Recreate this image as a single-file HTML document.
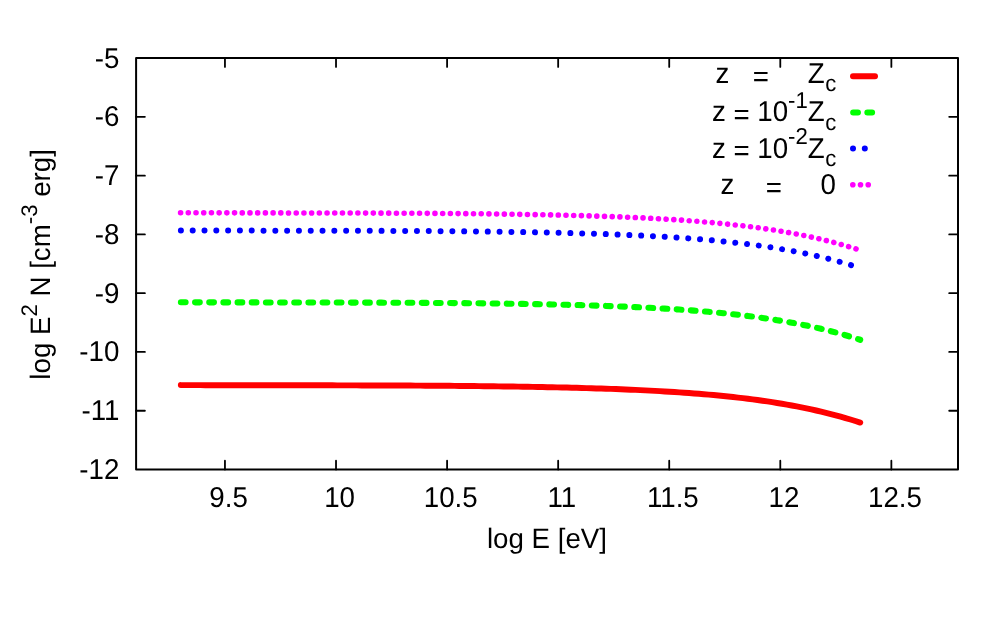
<!DOCTYPE html>
<html><head><meta charset="utf-8"><title>plot</title>
<style>
html,body{margin:0;padding:0;background:#fff;}
body{width:1000px;height:642px;overflow:hidden;}
svg{display:block;will-change:transform;}
text{font-family:"Liberation Sans",sans-serif;font-size:27.7px;fill:#000;text-rendering:geometricPrecision;}
.s{font-size:22.16px;}
</style></head><body>
<svg width="1000" height="642" viewBox="0 0 1000 642">
<rect width="1000" height="642" fill="#fff"/>
<g fill="none" stroke="#000" stroke-width="1.8" stroke-linecap="round">
<path d="M224.95,469.5 V460.7 M224.95,58.1 V66.9"/>
<path d="M336.02,469.5 V460.7 M336.02,58.1 V66.9"/>
<path d="M447.09,469.5 V460.7 M447.09,58.1 V66.9"/>
<path d="M558.16,469.5 V460.7 M558.16,58.1 V66.9"/>
<path d="M669.22,469.5 V460.7 M669.22,58.1 V66.9"/>
<path d="M780.29,469.5 V460.7 M780.29,58.1 V66.9"/>
<path d="M891.36,469.5 V460.7 M891.36,58.1 V66.9"/>
<path d="M136.1,410.73 H144.9 M958.0,410.73 H949.2"/>
<path d="M136.1,351.96 H144.9 M958.0,351.96 H949.2"/>
<path d="M136.1,293.19 H144.9 M958.0,293.19 H949.2"/>
<path d="M136.1,234.41 H144.9 M958.0,234.41 H949.2"/>
<path d="M136.1,175.64 H144.9 M958.0,175.64 H949.2"/>
<path d="M136.1,116.87 H144.9 M958.0,116.87 H949.2"/>
</g>
<g>
<text transform="translate(228.55,507.30) scale(1.0,1.035)" text-anchor="middle">9.5</text>
<text transform="translate(339.62,507.30) scale(1.0,1.035)" text-anchor="middle">10</text>
<text transform="translate(450.69,507.30) scale(1.0,1.035)" text-anchor="middle">10.5</text>
<text transform="translate(561.76,507.30) scale(1.0,1.035)" text-anchor="middle">11</text>
<text transform="translate(672.82,507.30) scale(1.0,1.035)" text-anchor="middle">11.5</text>
<text transform="translate(783.89,507.30) scale(1.0,1.035)" text-anchor="middle">12</text>
<text transform="translate(894.96,507.30) scale(1.0,1.035)" text-anchor="middle">12.5</text>
<text transform="translate(119.40,478.90) scale(1.0,1.035)" text-anchor="end">-12</text>
<text transform="translate(119.40,420.13) scale(1.0,1.035)" text-anchor="end">-11</text>
<text transform="translate(119.40,361.36) scale(1.0,1.035)" text-anchor="end">-10</text>
<text transform="translate(119.40,302.59) scale(1.0,1.035)" text-anchor="end">-9</text>
<text transform="translate(119.40,243.81) scale(1.0,1.035)" text-anchor="end">-8</text>
<text transform="translate(119.40,185.04) scale(1.0,1.035)" text-anchor="end">-7</text>
<text transform="translate(119.40,126.27) scale(1.0,1.035)" text-anchor="end">-6</text>
<text transform="translate(119.40,67.50) scale(1.0,1.035)" text-anchor="end">-5</text>
<text transform="translate(547.00,548.10) scale(1.0,1.015)" text-anchor="middle">log E [eV]</text>
<text transform="translate(50.40,264.40) rotate(-90) scale(1.0,1.015)" text-anchor="middle">log E<tspan class="s" dy="-13.4">2</tspan><tspan dy="13.4"> N [cm</tspan><tspan class="s" dy="-13.4">-3</tspan><tspan dy="13.4"> erg]</tspan></text>
<text transform="translate(715.60,82.80) scale(1.0,1.035)">z</text>
<text transform="translate(752.70,85.50) scale(1.0,1.035)">=</text>
<text transform="translate(807.70,82.80) scale(1.0,1.035)">Z<tspan class="s" dx="0.6" dy="8.3">c</tspan></text>
<text transform="translate(711.90,121.40) scale(1.0,1.035)">z <tspan dy="2.7">=</tspan><tspan dy="-2.7"> 10</tspan><tspan class="s" dy="-13.4">-1</tspan><tspan dy="13.4">Z</tspan><tspan class="s" dx="0.6" dy="8.3">c</tspan></text>
<text transform="translate(711.90,157.50) scale(1.0,1.035)">z <tspan dy="2.7">=</tspan><tspan dy="-2.7"> 10</tspan><tspan class="s" dy="-13.4">-2</tspan><tspan dy="13.4">Z</tspan><tspan class="s" dx="0.6" dy="8.3">c</tspan></text>
<text transform="translate(720.50,194.40) scale(1.0,1.035)">z</text>
<text transform="translate(765.70,197.10) scale(1.0,1.035)">=</text>
<text transform="translate(820.60,194.40) scale(1.0,1.035)">0</text>
</g>
<!-- curves -->
<g fill="none" stroke-linecap="round" stroke-linejoin="round">
<path d="M180.85,385.10 L185.74,385.11 L190.62,385.12 L195.51,385.13 L200.40,385.14 L205.29,385.15 L210.17,385.15 L215.06,385.16 L219.95,385.17 L224.84,385.18 L229.72,385.19 L234.61,385.19 L239.50,385.20 L244.39,385.21 L249.27,385.21 L254.16,385.22 L259.05,385.23 L263.94,385.23 L268.82,385.24 L273.71,385.25 L278.60,385.25 L283.49,385.26 L288.37,385.27 L293.26,385.27 L298.15,385.28 L303.04,385.29 L307.92,385.30 L312.81,385.30 L317.70,385.31 L322.58,385.32 L327.47,385.33 L332.36,385.34 L337.25,385.35 L342.13,385.36 L347.02,385.37 L351.91,385.38 L356.80,385.39 L361.68,385.41 L366.57,385.42 L371.46,385.43 L376.35,385.45 L381.23,385.47 L386.12,385.48 L391.01,385.50 L395.90,385.52 L400.78,385.54 L405.67,385.57 L410.56,385.59 L415.45,385.62 L420.33,385.64 L425.22,385.67 L430.11,385.70 L435.00,385.73 L439.88,385.77 L444.77,385.80 L449.66,385.84 L454.54,385.88 L459.43,385.92 L464.32,385.97 L469.21,386.02 L474.09,386.07 L478.98,386.12 L483.87,386.17 L488.76,386.23 L493.64,386.29 L498.53,386.35 L503.42,386.42 L508.31,386.49 L513.19,386.56 L518.08,386.63 L522.97,386.71 L527.86,386.79 L532.74,386.88 L537.63,386.97 L542.52,387.06 L547.41,387.16 L552.29,387.26 L557.18,387.37 L562.07,387.48 L566.96,387.59 L571.84,387.72 L576.73,387.84 L581.62,387.97 L586.51,388.11 L591.39,388.26 L596.28,388.41 L601.17,388.56 L606.05,388.73 L610.94,388.90 L615.83,389.08 L620.72,389.27 L625.60,389.47 L630.49,389.67 L635.38,389.89 L640.27,390.12 L645.15,390.35 L650.04,390.60 L654.93,390.86 L659.82,391.13 L664.70,391.41 L669.59,391.71 L674.48,392.02 L679.37,392.35 L684.25,392.69 L689.14,393.04 L694.03,393.41 L698.92,393.80 L703.80,394.20 L708.69,394.63 L713.58,395.07 L718.47,395.53 L723.35,396.01 L728.24,396.52 L733.13,397.04 L738.01,397.59 L742.90,398.16 L747.79,398.76 L752.68,399.39 L757.56,400.04 L762.45,400.72 L767.34,401.43 L772.23,402.18 L777.11,402.95 L782.00,403.76 L786.89,404.60 L791.78,405.49 L796.66,406.40 L801.55,407.36 L806.44,408.36 L811.33,409.40 L816.21,410.49 L821.10,411.62 L825.99,412.80 L830.88,414.03 L835.76,415.32 L840.65,416.65 L845.54,418.04 L850.43,419.49 L855.31,420.99 L860.20,422.56" stroke="#ff0000" stroke-width="5.95"/>
<path d="M180.90,302.30 L185.79,302.31 L190.67,302.32 L195.56,302.33 L200.45,302.34 L205.34,302.35 L210.22,302.35 L215.11,302.36 L220.00,302.37 L224.88,302.38 L229.77,302.39 L234.66,302.39 L239.54,302.40 L244.43,302.41 L249.32,302.41 L254.21,302.42 L259.09,302.43 L263.98,302.43 L268.87,302.44 L273.75,302.45 L278.64,302.45 L283.53,302.46 L288.42,302.47 L293.30,302.47 L298.19,302.48 L303.08,302.49 L307.96,302.50 L312.85,302.50 L317.74,302.51 L322.62,302.52 L327.51,302.53 L332.40,302.54 L337.29,302.55 L342.17,302.56 L347.06,302.57 L351.95,302.58 L356.83,302.59 L361.72,302.61 L366.61,302.62 L371.49,302.63 L376.38,302.65 L381.27,302.67 L386.16,302.68 L391.04,302.70 L395.93,302.72 L400.82,302.74 L405.70,302.77 L410.59,302.79 L415.48,302.82 L420.37,302.84 L425.25,302.87 L430.14,302.90 L435.03,302.93 L439.91,302.97 L444.80,303.00 L449.69,303.04 L454.57,303.08 L459.46,303.12 L464.35,303.17 L469.24,303.22 L474.12,303.27 L479.01,303.32 L483.90,303.37 L488.78,303.43 L493.67,303.49 L498.56,303.55 L503.45,303.62 L508.33,303.69 L513.22,303.76 L518.11,303.83 L522.99,303.91 L527.88,303.99 L532.77,304.08 L537.65,304.17 L542.54,304.26 L547.43,304.36 L552.32,304.46 L557.20,304.57 L562.09,304.68 L566.98,304.80 L571.86,304.92 L576.75,305.04 L581.64,305.17 L586.53,305.31 L591.41,305.46 L596.30,305.61 L601.19,305.76 L606.07,305.93 L610.96,306.10 L615.85,306.28 L620.73,306.47 L625.62,306.67 L630.51,306.87 L635.40,307.09 L640.28,307.32 L645.17,307.55 L650.06,307.80 L654.94,308.06 L659.83,308.33 L664.72,308.61 L669.61,308.91 L674.49,309.22 L679.38,309.55 L684.27,309.89 L689.15,310.24 L694.04,310.61 L698.93,311.00 L703.81,311.41 L708.70,311.83 L713.59,312.27 L718.48,312.73 L723.36,313.21 L728.25,313.72 L733.14,314.24 L738.02,314.79 L742.91,315.37 L747.80,315.96 L752.68,316.59 L757.57,317.24 L762.46,317.92 L767.35,318.63 L772.23,319.38 L777.12,320.15 L782.01,320.96 L786.89,321.81 L791.78,322.69 L796.67,323.60 L801.56,324.56 L806.44,325.56 L811.33,326.61 L816.22,327.69 L821.10,328.82 L825.99,330.00 L830.88,331.23 L835.76,332.52 L840.65,333.85 L845.54,335.24 L850.43,336.69 L855.31,338.19 L860.20,339.76" stroke="#00ff00" stroke-width="6.1" stroke-dasharray="4.7 9.47"/>
<path d="M180.90,230.50 L185.79,230.51 L190.67,230.52 L195.56,230.53 L200.45,230.54 L205.34,230.55 L210.22,230.55 L215.11,230.56 L220.00,230.57 L224.88,230.58 L229.77,230.59 L234.66,230.59 L239.54,230.60 L244.43,230.61 L249.32,230.61 L254.21,230.62 L259.09,230.63 L263.98,230.63 L268.87,230.64 L273.75,230.65 L278.64,230.65 L283.53,230.66 L288.42,230.67 L293.30,230.67 L298.19,230.68 L303.08,230.69 L307.96,230.70 L312.85,230.70 L317.74,230.71 L322.62,230.72 L327.51,230.73 L332.40,230.74 L337.29,230.75 L342.17,230.76 L347.06,230.77 L351.95,230.78 L356.83,230.79 L361.72,230.81 L366.61,230.82 L371.49,230.83 L376.38,230.85 L381.27,230.87 L386.16,230.88 L391.04,230.90 L395.93,230.92 L400.82,230.94 L405.70,230.97 L410.59,230.99 L415.48,231.02 L420.37,231.04 L425.25,231.07 L430.14,231.10 L435.03,231.13 L439.91,231.17 L444.80,231.20 L449.69,231.24 L454.57,231.28 L459.46,231.32 L464.35,231.37 L469.24,231.42 L474.12,231.47 L479.01,231.52 L483.90,231.57 L488.78,231.63 L493.67,231.69 L498.56,231.75 L503.45,231.82 L508.33,231.89 L513.22,231.96 L518.11,232.03 L522.99,232.11 L527.88,232.19 L532.77,232.28 L537.65,232.37 L542.54,232.46 L547.43,232.56 L552.32,232.66 L557.20,232.77 L562.09,232.88 L566.98,233.00 L571.86,233.12 L576.75,233.24 L581.64,233.37 L586.53,233.51 L591.41,233.66 L596.30,233.81 L601.19,233.96 L606.07,234.13 L610.96,234.30 L615.85,234.48 L620.73,234.67 L625.62,234.87 L630.51,235.07 L635.40,235.29 L640.28,235.52 L645.17,235.75 L650.06,236.00 L654.94,236.26 L659.83,236.53 L664.72,236.81 L669.61,237.11 L674.49,237.42 L679.38,237.75 L684.27,238.09 L689.15,238.44 L694.04,238.81 L698.93,239.20 L703.81,239.61 L708.70,240.03 L713.59,240.47 L718.48,240.93 L723.36,241.41 L728.25,241.92 L733.14,242.44 L738.02,242.99 L742.91,243.57 L747.80,244.16 L752.68,244.79 L757.57,245.44 L762.46,246.12 L767.35,246.83 L772.23,247.58 L777.12,248.35 L782.01,249.16 L786.89,250.01 L791.78,250.89 L796.67,251.80 L801.56,252.76 L806.44,253.76 L811.33,254.81 L816.22,255.89 L821.10,257.02 L825.99,258.20 L830.88,259.43 L835.76,260.72 L840.65,262.05 L845.54,263.44 L850.43,264.89 L855.31,266.39 L860.20,267.96" stroke="#0000ff" stroke-width="6" stroke-dasharray="0.01 11.793"/>
<path d="M180.60,212.77 L185.49,212.78 L190.38,212.79 L195.27,212.80 L200.16,212.81 L205.05,212.81 L209.94,212.82 L214.82,212.83 L219.71,212.84 L224.60,212.85 L229.49,212.86 L234.38,212.86 L239.27,212.87 L244.16,212.88 L249.05,212.88 L253.94,212.89 L258.83,212.90 L263.72,212.90 L268.61,212.91 L273.49,212.92 L278.38,212.92 L283.27,212.93 L288.16,212.94 L293.05,212.94 L297.94,212.95 L302.83,212.96 L307.72,212.97 L312.61,212.97 L317.50,212.98 L322.39,212.99 L327.28,213.00 L332.17,213.01 L337.05,213.02 L341.94,213.03 L346.83,213.04 L351.72,213.05 L356.61,213.06 L361.50,213.07 L366.39,213.09 L371.28,213.10 L376.17,213.12 L381.06,213.14 L385.95,213.15 L390.84,213.17 L395.73,213.19 L400.61,213.21 L405.50,213.24 L410.39,213.26 L415.28,213.29 L420.17,213.31 L425.06,213.34 L429.95,213.37 L434.84,213.40 L439.73,213.44 L444.62,213.47 L449.51,213.51 L454.40,213.55 L459.28,213.59 L464.17,213.64 L469.06,213.68 L473.95,213.73 L478.84,213.79 L483.73,213.84 L488.62,213.90 L493.51,213.96 L498.40,214.02 L503.29,214.08 L508.18,214.15 L513.07,214.23 L517.96,214.30 L522.84,214.38 L527.73,214.46 L532.62,214.55 L537.51,214.64 L542.40,214.73 L547.29,214.83 L552.18,214.93 L557.07,215.04 L561.96,215.15 L566.85,215.26 L571.74,215.38 L576.63,215.51 L581.52,215.64 L586.40,215.78 L591.29,215.92 L596.18,216.07 L601.07,216.23 L605.96,216.40 L610.85,216.57 L615.74,216.75 L620.63,216.94 L625.52,217.13 L630.41,217.34 L635.30,217.56 L640.19,217.78 L645.07,218.02 L649.96,218.27 L654.85,218.52 L659.74,218.80 L664.63,219.08 L669.52,219.38 L674.41,219.69 L679.30,220.01 L684.19,220.35 L689.08,220.71 L693.97,221.08 L698.86,221.46 L703.75,221.87 L708.63,222.29 L713.52,222.73 L718.41,223.20 L723.30,223.68 L728.19,224.18 L733.08,224.71 L737.97,225.26 L742.86,225.83 L747.75,226.43 L752.64,227.05 L757.53,227.71 L762.42,228.39 L767.31,229.10 L772.19,229.84 L777.08,230.62 L781.97,231.43 L786.86,232.27 L791.75,233.15 L796.64,234.07 L801.53,235.03 L806.42,236.03 L811.31,237.07 L816.20,238.16 L821.09,239.29 L825.98,240.47 L830.86,241.70 L835.75,242.98 L840.64,244.32 L845.53,245.71 L850.42,247.15 L855.31,248.66 L860.20,250.23" stroke="#ff00ff" stroke-width="5.6" stroke-dasharray="0.01 7.698"/>
<path d="M853,76.3 H875" stroke="#ff0000" stroke-width="5.95"/>
<path d="M853.2,112.5 H875" stroke="#00ff00" stroke-width="6.1" stroke-dasharray="4.7 9.47"/>
<path d="M853,148.5 H875" stroke="#0000ff" stroke-width="6" stroke-dasharray="0.01 11.793"/>
<path d="M852.8,184.8 H875" stroke="#ff00ff" stroke-width="5.6" stroke-dasharray="0.01 7.698"/>
</g>
<rect x="136.1" y="58.1" width="821.90" height="411.40" fill="none" stroke="#000" stroke-width="2" stroke-linejoin="round"/>
</svg>
</body></html>
